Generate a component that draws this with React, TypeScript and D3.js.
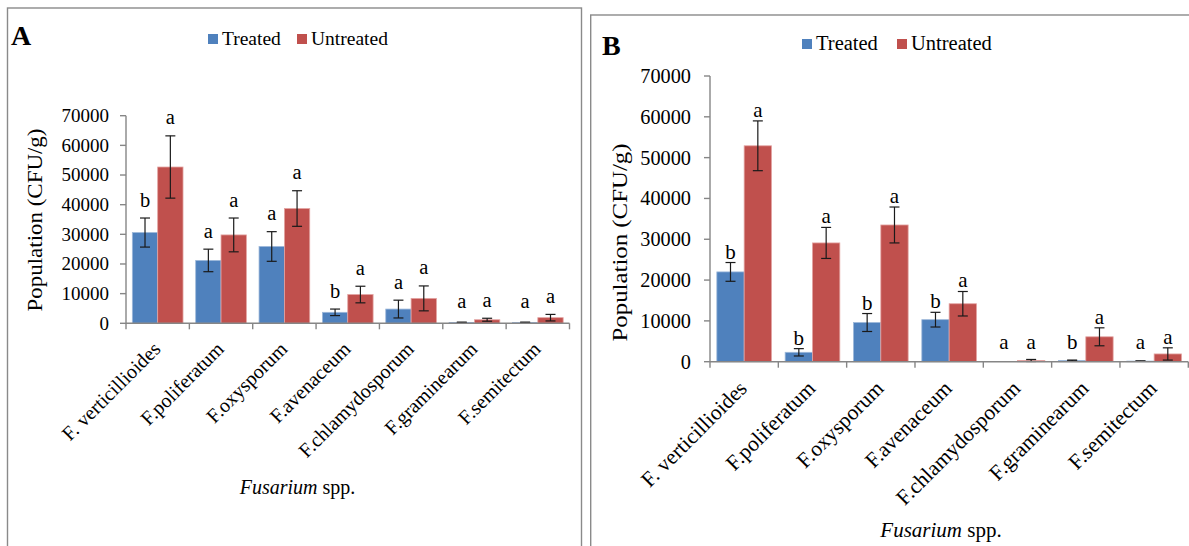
import React from 'react';
import * as d3 from 'd3';

// ---------- data ----------
const categories = [
  'F. verticillioides',
  'F.poliferatum',
  'F.oxysporum',
  'F.avenaceum',
  'F.chlamydosporum',
  'F.graminearum',
  'F.semitectum',
];
const seriesNames = ['Treated', 'Untreated'];
const yTicks = [0, 10000, 20000, 30000, 40000, 50000, 60000, 70000];

// Panel A
const treatedA = [30600, 21200, 25900, 3700, 4800, 300, 300];
const treatedErrA = [4900, 3800, 5000, 1100, 3000, 100, 100];
const untreatedA = [52700, 29800, 38700, 9700, 8400, 1200, 1900];
const untreatedErrA = [10500, 5700, 6000, 2800, 4200, 500, 1100];
const lettersTreatedA = ['b', 'a', 'a', 'b', 'a', 'a', 'a'];
const lettersUntreatedA = ['a', 'a', 'a', 'a', 'a', 'a', 'a'];

// Panel B
const treatedB = [22000, 2300, 9600, 10300, 0, 300, 150];
const treatedErrB = [2300, 900, 2200, 1800, 0, 100, 50];
const untreatedB = [52900, 29100, 33500, 14200, 300, 6100, 1900];
const untreatedErrB = [6100, 3800, 4400, 3000, 250, 2200, 1500];
const lettersTreatedB = ['b', 'b', 'b', 'b', 'a', 'b', 'a'];
const lettersUntreatedB = ['a', 'a', 'a', 'a', 'a', 'a', 'a'];

// ---------- style ----------
const BLUE = '#4F81BD';
const RED = '#C0504D';
const BLUE_EDGE = '#9DB8DA';
const RED_EDGE = '#E3A4A2';
const AXIS = '#868686';
const FONT = "'Liberation Serif', 'Times New Roman', Times, serif";

type PanelProps = {
  letter: string;
  treated: number[];
  treatedErr: number[];
  untreated: number[];
  untreatedErr: number[];
  lettersT: string[];
  lettersU: string[];
  cfg: any;
};

function Panel({ letter, treated, treatedErr, untreated, untreatedErr, lettersT, lettersU, cfg }: PanelProps) {
  const y = d3.scaleLinear().domain([0, 70000]).range([cfg.y0, cfg.y1]);
  const x = d3
    .scaleBand<string>()
    .domain(categories)
    .range([cfg.x0, cfg.x1])
    .paddingInner(0.2)
    .paddingOuter(0.1);
  const sub = d3.scaleBand<string>().domain(seriesNames).range([0, x.bandwidth()]);
  const step = x.step();
  const series = [
    { name: 'Treated', vals: treated, errs: treatedErr, letters: lettersT, fill: BLUE, edge: BLUE_EDGE },
    { name: 'Untreated', vals: untreated, errs: untreatedErr, letters: lettersU, fill: RED, edge: RED_EDGE },
  ];
  const boundaries = d3.range(categories.length + 1).map((i) => cfg.x0 + i * step);

  return (
    <g fontFamily={FONT}>
      {/* panel frame */}
      <rect x={cfg.frame.x} y={cfg.frame.y} width={cfg.frame.w} height={cfg.frame.h} fill="none" stroke="#8a8a8a" strokeWidth={1.4} />
      {/* panel letter */}
      <text x={cfg.letterPos[0]} y={cfg.letterPos[1]} fontSize={cfg.letterSize} fontWeight="bold" fill="#000">
        {letter}
      </text>
      {/* legend */}
      <g>
        <rect x={cfg.legend[0]} y={cfg.legend[1] - cfg.legendSq - 1} width={cfg.legendSq} height={cfg.legendSq} fill={BLUE} />
        <text x={cfg.legend[0] + cfg.legendSq + 4} y={cfg.legend[1]} fontSize={cfg.legendFont} fill="#000">
          Treated
        </text>
        <rect x={cfg.legend2} y={cfg.legend[1] - cfg.legendSq - 1} width={cfg.legendSq} height={cfg.legendSq} fill={RED} />
        <text x={cfg.legend2 + cfg.legendSq + 4} y={cfg.legend[1]} fontSize={cfg.legendFont} fill="#000">
          Untreated
        </text>
      </g>
      {/* bars */}
      {series.map((s) =>
        categories.map((c, i) => {
          const bx = (x(c) as number) + (sub(s.name) as number);
          const bw = sub.bandwidth();
          const v = s.vals[i];
          const e = s.errs[i];
          const cx = bx + bw / 2;
          const top = y(v + e);
          const bot = y(Math.max(0, v - e));
          const ly = Math.min(top - cfg.letterGap, cfg.y0 - cfg.letterFloor);
          return (
            <g key={s.name + c}>
              {v > 0 && (
                <rect x={bx} y={y(v)} width={bw} height={cfg.y0 - y(v)} fill={s.fill} stroke={s.edge} strokeWidth={0.8} />
              )}
              {e > 0 && (
                <g stroke="#1a1a1a" strokeWidth={1.2}>
                  <line x1={cx} x2={cx} y1={top} y2={bot} />
                  <line x1={cx - 5} x2={cx + 5} y1={top} y2={top} />
                  <line x1={cx - 5} x2={cx + 5} y1={bot} y2={bot} />
                </g>
              )}
              <text x={cx} y={ly} textAnchor="middle" fontSize={cfg.markFont} fill="#000">
                {s.letters[i]}
              </text>
            </g>
          );
        })
      )}
      {/* y axis */}
      <line x1={cfg.x0} x2={cfg.x0} y1={cfg.y0} y2={cfg.y1} stroke={AXIS} strokeWidth={1.4} />
      {yTicks.map((t) => (
        <g key={t}>
          <line x1={cfg.x0 - 6} x2={cfg.x0} y1={y(t)} y2={y(t)} stroke={AXIS} strokeWidth={1.4} />
          <text x={cfg.tickRight} y={y(t)} dy="0.34em" textAnchor="end" fontSize={cfg.tickFont} fill="#000">
            {t}
          </text>
        </g>
      ))}
      {/* x axis */}
      <line x1={cfg.x0} x2={cfg.x1} y1={cfg.y0} y2={cfg.y0} stroke={AXIS} strokeWidth={1.4} />
      {boundaries.map((bxv, i) => (
        <line key={i} x1={bxv} x2={bxv} y1={cfg.y0} y2={cfg.y0 + 6} stroke={AXIS} strokeWidth={1.4} />
      ))}
      {categories.map((c) => {
        const cx = (x(c) as number) + x.bandwidth() / 2;
        return (
          <text
            key={c}
            transform={`translate(${cx + cfg.lblDx},${cfg.y0 + cfg.lblDy}) rotate(-45)`}
            textAnchor="end"
            fontSize={cfg.lblFont}
            fill="#000"
          >
            {c}
          </text>
        );
      })}
      {/* axis titles */}
      <text
        transform={`translate(${cfg.yTitle[0]},${cfg.yTitle[1]}) rotate(-90)`}
        textAnchor="middle"
        fontSize={cfg.yTitleFont}
        textLength={cfg.yTitleLen}
        lengthAdjust="spacingAndGlyphs"
        fill="#000"
      >
        Population (CFU/g)
      </text>
      <text x={cfg.xTitle[0]} y={cfg.xTitle[1]} textAnchor="middle" fontSize={cfg.xTitleFont} fill="#000">
        <tspan fontStyle="italic">Fusarium</tspan>
        <tspan> spp.</tspan>
      </text>
    </g>
  );
}

const cfgA = {
  frame: { x: 7.5, y: 8, w: 574, h: 560 },
  letterPos: [11, 45],
  letterSize: 28,
  legend: [208, 45],
  legend2: 297,
  legendSq: 10,
  legendFont: 19.5,
  x0: 126,
  x1: 569.5,
  y0: 323.3,
  y1: 115.7,
  tickRight: 109,
  tickFont: 19,
  markFont: 20.5,
  letterGap: 11.5,
  letterFloor: 15.5,
  lblDx: 4,
  lblDy: 27,
  lblFont: 20,
  yTitle: [41.7, 220],
  yTitleFont: 21,
  yTitleLen: 183,
  xTitle: [297.5, 494],
  xTitleFont: 20,
};

const cfgB = {
  frame: { x: 590.7, y: 15, w: 620, h: 560 },
  letterPos: [602, 55],
  letterSize: 28,
  legend: [802, 50],
  legend2: 897,
  legendSq: 10,
  legendFont: 20.5,
  x0: 710,
  x1: 1188.3,
  y0: 361.7,
  y1: 76,
  tickRight: 691,
  tickFont: 20.3,
  markFont: 21,
  letterGap: 4,
  letterFloor: 13,
  lblDx: 4,
  lblDy: 28,
  lblFont: 21.5,
  yTitle: [627.3, 242.5],
  yTitleFont: 21,
  yTitleLen: 198,
  xTitle: [941, 537],
  xTitleFont: 21,
};

export default function App() {
  return (
    <svg
      width={1189}
      height={546}
      viewBox="0 0 1189 546"
      style={{ position: 'absolute', left: 0, top: 0, background: '#fff' }}
    >
      <rect width={1189} height={546} fill="#fff" />
      <Panel
        letter="A"
        treated={treatedA}
        treatedErr={treatedErrA}
        untreated={untreatedA}
        untreatedErr={untreatedErrA}
        lettersT={lettersTreatedA}
        lettersU={lettersUntreatedA}
        cfg={cfgA}
      />
      <Panel
        letter="B"
        treated={treatedB}
        treatedErr={treatedErrB}
        untreated={untreatedB}
        untreatedErr={untreatedErrB}
        lettersT={lettersTreatedB}
        lettersU={lettersUntreatedB}
        cfg={cfgB}
      />
    </svg>
  );
}
